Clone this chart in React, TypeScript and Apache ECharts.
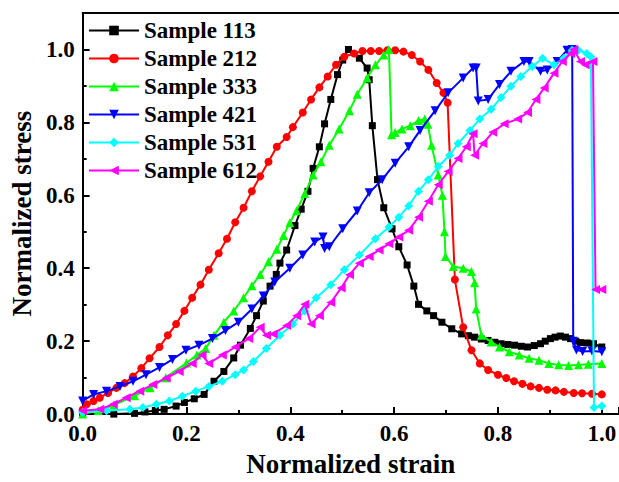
import React, { useEffect, useRef } from "react";
import * as echarts from "echarts";

const seriesNames = ["Sample 113", "Sample 212", "Sample 333", "Sample 421", "Sample 531", "Sample 612"];

const xTicks = [0, 0.2, 0.4, 0.6, 0.8, 1.0];
const yTicks = [0, 0.2, 0.4, 0.6, 0.8, 1.0];

const s113: number[][] = [
  [0, 0], [0.06, 0], [0.1, 0.002], [0.12, 0.006], [0.14, 0.01], [0.157, 0.013], [0.18, 0.022], [0.196, 0.032],
  [0.215, 0.042], [0.234, 0.054], [0.253, 0.09], [0.272, 0.117], [0.291, 0.154], [0.304, 0.189], [0.323, 0.235],
  [0.335, 0.27], [0.348, 0.31], [0.361, 0.351], [0.373, 0.383], [0.38, 0.414], [0.393, 0.45], [0.409, 0.517],
  [0.421, 0.562], [0.434, 0.611], [0.444, 0.674], [0.456, 0.733], [0.466, 0.796], [0.478, 0.863], [0.491, 0.931],
  [0.501, 0.971], [0.512, 1.0], [0.533, 0.976], [0.548, 0.949], [0.552, 0.917], [0.558, 0.791], [0.568, 0.643],
  [0.58, 0.566], [0.596, 0.508], [0.609, 0.459], [0.625, 0.409], [0.638, 0.351], [0.647, 0.301], [0.663, 0.283],
  [0.676, 0.27], [0.692, 0.252], [0.711, 0.234], [0.73, 0.22], [0.743, 0.215], [0.755, 0.211], [0.768, 0.206],
  [0.781, 0.202], [0.794, 0.197], [0.806, 0.193], [0.819, 0.191], [0.832, 0.189], [0.845, 0.186], [0.857, 0.184],
  [0.87, 0.188], [0.882, 0.193], [0.891, 0.2], [0.901, 0.207], [0.91, 0.211], [0.92, 0.214], [0.93, 0.211],
  [0.94, 0.207], [0.95, 0.2], [0.959, 0.196], [0.972, 0.195], [0.984, 0.193], [1.0, 0.184],
];

const s212: number[][] = [
  [0, 0.012], [0.008, 0.027], [0.021, 0.036], [0.033, 0.045], [0.049, 0.058], [0.065, 0.072], [0.081, 0.085],
  [0.097, 0.103], [0.113, 0.126], [0.129, 0.153], [0.148, 0.184], [0.164, 0.216], [0.18, 0.247], [0.196, 0.283],
  [0.211, 0.319], [0.227, 0.355], [0.243, 0.396], [0.262, 0.441], [0.278, 0.481], [0.294, 0.526], [0.31, 0.566],
  [0.326, 0.611], [0.342, 0.652], [0.358, 0.692], [0.374, 0.733], [0.393, 0.76], [0.405, 0.787], [0.424, 0.827],
  [0.44, 0.863], [0.456, 0.896], [0.472, 0.926], [0.488, 0.958], [0.504, 0.98], [0.523, 0.989], [0.539, 0.996],
  [0.555, 0.996], [0.571, 0.996], [0.587, 0.998], [0.602, 0.998], [0.618, 0.994], [0.634, 0.985], [0.65, 0.967],
  [0.666, 0.944], [0.682, 0.908], [0.695, 0.881], [0.703, 0.854], [0.717, 0.369], [0.733, 0.238], [0.749, 0.175],
  [0.765, 0.139], [0.781, 0.121], [0.8, 0.108], [0.816, 0.099], [0.831, 0.09], [0.847, 0.083], [0.863, 0.076],
  [0.879, 0.072], [0.895, 0.067], [0.911, 0.065], [0.927, 0.061], [0.946, 0.058], [0.962, 0.057], [0.981, 0.056],
  [1.0, 0.054],
];

const s333: number[][] = [
  [0, 0], [0.03, 0.01], [0.06, 0.025], [0.1, 0.05], [0.13, 0.072], [0.16, 0.1], [0.2, 0.14], [0.22, 0.162],
  [0.237, 0.18], [0.253, 0.216], [0.272, 0.252], [0.291, 0.283], [0.31, 0.319], [0.326, 0.352], [0.342, 0.383],
  [0.358, 0.418], [0.374, 0.452], [0.387, 0.49], [0.399, 0.525], [0.412, 0.558], [0.428, 0.605], [0.444, 0.656],
  [0.459, 0.692], [0.475, 0.737], [0.494, 0.782], [0.514, 0.832], [0.529, 0.877], [0.548, 0.922], [0.564, 0.958],
  [0.58, 0.985], [0.59, 1.0], [0.595, 0.766], [0.602, 0.772], [0.615, 0.782], [0.631, 0.791], [0.647, 0.805],
  [0.659, 0.809], [0.665, 0.795], [0.672, 0.737], [0.685, 0.656], [0.693, 0.6], [0.697, 0.5], [0.699, 0.432],
  [0.714, 0.405], [0.733, 0.4], [0.749, 0.391], [0.755, 0.36], [0.758, 0.288], [0.768, 0.216], [0.787, 0.198],
  [0.803, 0.184], [0.822, 0.171], [0.841, 0.162], [0.86, 0.153], [0.879, 0.148], [0.898, 0.139], [0.917, 0.135],
  [0.936, 0.133], [0.955, 0.135], [0.974, 0.137], [1.0, 0.139],
];

const s421: number[][] = [
  [0, 0.036], [0.021, 0.054], [0.046, 0.063], [0.072, 0.076], [0.097, 0.09], [0.122, 0.108], [0.148, 0.128],
  [0.173, 0.15], [0.199, 0.175], [0.224, 0.189], [0.25, 0.207], [0.275, 0.229], [0.3, 0.252], [0.326, 0.288],
  [0.348, 0.324], [0.37, 0.362], [0.399, 0.4], [0.424, 0.436], [0.447, 0.472], [0.463, 0.486], [0.466, 0.454],
  [0.475, 0.459], [0.501, 0.508], [0.529, 0.557], [0.552, 0.607], [0.577, 0.643], [0.602, 0.688], [0.628, 0.733],
  [0.65, 0.778], [0.679, 0.832], [0.704, 0.881], [0.733, 0.922], [0.752, 0.949], [0.758, 0.949], [0.762, 0.859],
  [0.781, 0.863], [0.803, 0.904], [0.825, 0.94], [0.85, 0.967], [0.86, 0.967], [0.882, 0.94], [0.895, 0.944],
  [0.914, 0.967], [0.933, 0.998], [0.943, 1.0], [0.945, 0.2], [0.951, 0.176], [0.963, 0.172], [0.981, 0.173],
  [1.0, 0.171],
];

const s531: number[][] = [
  [0, 0.005], [0.046, 0.009], [0.091, 0.013], [0.116, 0.018], [0.142, 0.027], [0.167, 0.036], [0.192, 0.049],
  [0.218, 0.063], [0.243, 0.076], [0.269, 0.09], [0.294, 0.108], [0.31, 0.121], [0.329, 0.144], [0.354, 0.18],
  [0.38, 0.216], [0.405, 0.247], [0.428, 0.283], [0.45, 0.319], [0.478, 0.355], [0.504, 0.396], [0.533, 0.436],
  [0.564, 0.481], [0.59, 0.513], [0.609, 0.54], [0.628, 0.571], [0.647, 0.611], [0.666, 0.643], [0.685, 0.679],
  [0.707, 0.71], [0.723, 0.742], [0.746, 0.778], [0.765, 0.809], [0.787, 0.836], [0.806, 0.868], [0.825, 0.899],
  [0.844, 0.926], [0.866, 0.953], [0.886, 0.976], [0.908, 0.958], [0.927, 0.976], [0.943, 0.998], [0.955, 0.998],
  [0.971, 0.989], [0.979, 0.98], [0.985, 0.018], [1.0, 0.022],
];

const s612: number[][] = [
  [0, 0.009], [0.033, 0.013], [0.059, 0.027], [0.084, 0.045], [0.11, 0.063], [0.135, 0.081], [0.161, 0.099],
  [0.186, 0.117], [0.211, 0.139], [0.23, 0.162], [0.243, 0.139], [0.269, 0.162], [0.294, 0.184], [0.32, 0.207],
  [0.342, 0.238], [0.354, 0.216], [0.367, 0.22], [0.393, 0.243], [0.412, 0.27], [0.428, 0.301], [0.44, 0.247],
  [0.456, 0.27], [0.478, 0.306], [0.498, 0.346], [0.514, 0.382], [0.533, 0.414], [0.552, 0.432], [0.571, 0.45],
  [0.59, 0.467], [0.609, 0.486], [0.628, 0.504], [0.647, 0.54], [0.666, 0.584], [0.685, 0.629], [0.704, 0.665],
  [0.723, 0.701], [0.739, 0.733], [0.752, 0.769], [0.755, 0.71], [0.771, 0.742], [0.79, 0.773], [0.812, 0.796],
  [0.838, 0.809], [0.857, 0.827], [0.873, 0.863], [0.889, 0.894], [0.908, 0.935], [0.924, 0.967], [0.94, 0.989],
  [0.946, 1.0], [0.959, 0.967], [0.968, 0.958], [0.983, 0.967], [0.988, 0.342], [1.0, 0.342],
];

const seriesData = [s113, s212, s333, s421, s531, s612];
const colors = ["#000000", "#ff0000", "#00ff00", "#0000ff", "#00ffff", "#ff00ff"];
const symbols = ["rect", "circle", "triangle", "triangle", "diamond", "triangle"];
const symbolRotates = [0, 0, 0, 180, 0, 90];
const symbolSizes = [7, 8, 9, 9, 9, 9];

const FONT = "'Liberation Serif', 'Times New Roman', serif";
const X_MAX = 1.033;
const Y_MAX = 1.1;

const fmt = (v: number) => {
  const hit = xTicks.concat(yTicks).some((t) => Math.abs(t - v) < 1e-6);
  return hit ? v.toFixed(1) : "";
};

export default function App() {
  const ref = useRef<HTMLDivElement>(null);
  useEffect(() => {
    if (!ref.current) return;
    const chart = echarts.init(ref.current, null, { renderer: "svg" });
    const labelStyle = { fontFamily: FONT, fontWeight: "bold" as const, fontSize: 23, color: "#000" };
    chart.setOption({
      animation: false,
      backgroundColor: "#fff",
      grid: { left: 77.5, top: 13, right: 0, bottom: 62, containLabel: false },
      legend: {
        orient: "vertical",
        left: 88,
        top: 19,
        padding: 0,
        itemWidth: 50,
        itemHeight: 12,
        itemGap: 5,
        data: seriesNames,
        textStyle: { fontFamily: FONT, fontWeight: "bold", fontSize: 23, color: "#000", lineHeight: 23 },
      },
      xAxis: [
        {
          type: "value",
          min: 0,
          max: X_MAX,
          interval: 0.2,
          position: "bottom",
          name: "Normalized strain",
          nameLocation: "middle",
          nameGap: 34,
          nameTextStyle: { fontFamily: FONT, fontWeight: "bold", fontSize: 27, color: "#000" },
          axisLine: { show: true, lineStyle: { color: "#000", width: 2 } },
          axisTick: { show: true, inside: true, length: 7, lineStyle: { color: "#000", width: 2 } },
          minorTick: { show: true, splitNumber: 2, length: 4, lineStyle: { color: "#000", width: 2 } },
          axisLabel: { ...labelStyle, margin: 8, formatter: fmt, showMaxLabel: false },
          splitLine: { show: false },
        },
        {
          type: "value",
          min: 0,
          max: X_MAX,
          position: "top",
          axisLine: { show: true, onZero: false, lineStyle: { color: "#000", width: 2 } },
          axisTick: { show: false },
          axisLabel: { show: false },
          splitLine: { show: false },
        },
      ],
      yAxis: {
        type: "value",
        min: 0,
        max: Y_MAX,
        interval: 0.2,
        name: "Normalized stress",
        nameLocation: "middle",
        nameGap: 42,
        nameTextStyle: { fontFamily: FONT, fontWeight: "bold", fontSize: 27, color: "#000" },
        axisLine: { show: true, lineStyle: { color: "#000", width: 2 } },
        axisTick: { show: true, inside: true, length: 7, lineStyle: { color: "#000", width: 2 } },
        minorTick: { show: true, splitNumber: 2, length: 4, lineStyle: { color: "#000", width: 2 } },
        axisLabel: { ...labelStyle, margin: 8, formatter: fmt, showMaxLabel: false },
        splitLine: { show: false },
      },
      series: seriesNames.map((name, i) => ({
        name,
        type: "line",
        xAxisIndex: 0,
        data: seriesData[i],
        color: colors[i],
        symbol: symbols[i],
        symbolRotate: symbolRotates[i],
        symbolSize: symbolSizes[i],
        showAllSymbol: true,
        lineStyle: { color: colors[i], width: 2 },
        itemStyle: { color: colors[i] },
        emphasis: { disabled: true },
        z: 2 + i,
      })),
    });
    return () => chart.dispose();
  }, []);
  return (
    <div
      ref={ref}
      style={{ position: "absolute", left: 0, top: 0, width: 619, height: 482 }}
    />
  );
}
